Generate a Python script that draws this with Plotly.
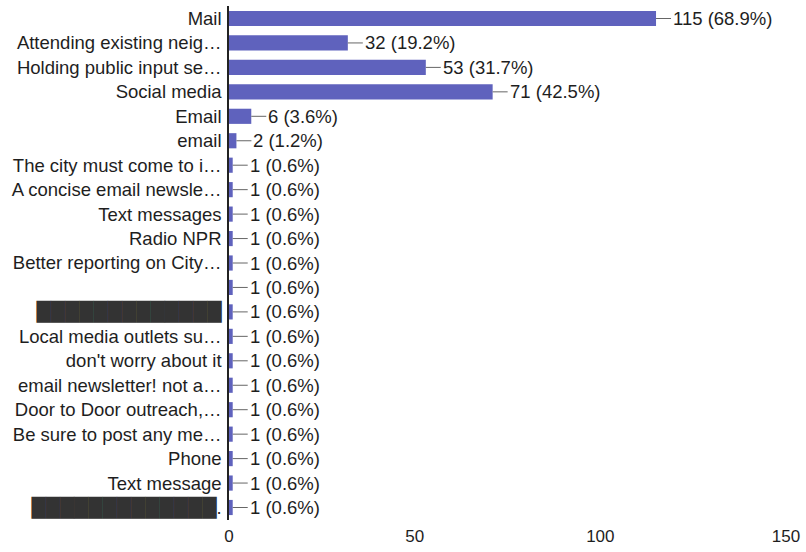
import plotly.graph_objects as go

BLOB = '<span style="font-family:DejaVu Sans;color:#333333">{}</span>'

categories = [
    "Mail",
    "Attending existing neig…",
    "Holding public input se…",
    "Social media",
    "Email",
    "email",
    "The city must come to i…",
    "A concise email newsle…",
    "Text messages",
    "Radio NPR",
    "Better reporting on City…",
    " ",
    BLOB.format("█" * 13),
    "Local media outlets su…",
    "don't worry about it",
    "email newsletter! not a…",
    "Door to Door outreach,…",
    "Be sure to post any me…",
    "Phone",
    "Text message",
    BLOB.format("█" * 13) + ".",
]
values = [115, 32, 53, 71, 6, 2, 1, 1, 1, 1, 1, 1, 1, 1, 1, 1, 1, 1, 1, 1, 1]
percents = ["68.9%", "19.2%", "31.7%", "42.5%", "3.6%", "1.2%"] + ["0.6%"] * 15
x_ticks = [0, 50, 100, 150]

FONT = "Liberation Sans, Arial, sans-serif"
BAR = "#5f62bd"

fig = go.Figure(go.Bar(
    x=values, y=categories, orientation="h",
    marker=dict(color=BAR, line=dict(width=0)),
    hoverinfo="skip",
))

for c, v, p in zip(categories, values, percents):
    fig.add_annotation(
        x=v, y=c, xref="x", yref="y",
        text=f"{v} ({p})", showarrow=True, arrowhead=0, arrowwidth=1,
        arrowcolor="#666", ax=15, ay=0, xanchor="left",
        font=dict(family=FONT, size=18.5, color="#1e1e1e"),
    )

fig.update_layout(
    width=806, height=552,
    margin=dict(l=229, r=20, t=6, b=32, autoexpand=False),
    paper_bgcolor="white", plot_bgcolor="white",
    bargap=0.38, showlegend=False,
    font=dict(family=FONT, size=18.5, color="#1e1e1e"),
)
fig.update_xaxes(range=[0, 150], tickvals=x_ticks, showgrid=False, zeroline=False,
                 showline=False, ticks="", automargin=False, ticklabelstandoff=4,
                 tickfont=dict(size=17, color="#1e1e1e"))
fig.update_yaxes(autorange="reversed", showgrid=False, showline=True, linecolor="#222",
                 linewidth=1.5, ticks="", ticklabelstandoff=2, automargin=False,
                 tickfont=dict(size=18.5, color="#1e1e1e"))

fig.write_html("out.html", config={"displayModeBar": False},
               post_script="document.body.style.margin='0';")
